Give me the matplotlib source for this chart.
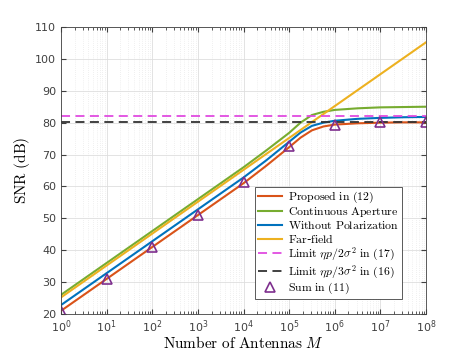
import numpy as np
import matplotlib
matplotlib.use('Agg')
import matplotlib.pyplot as plt

# curves (log10 M -> SNR dB)
logm = [0, 0.5, 1, 1.5, 2, 2.5, 3, 3.5, 4, 4.5, 5, 5.25, 5.5, 5.75, 6, 6.5, 7, 7.5, 8]
proposed = [21.0, 26.0, 31.0, 36.0, 41.0, 46.0, 51.0, 56.0, 61.0, 66.5, 72.3, 75.3, 77.6, 78.8, 79.4, 79.8, 80.0, 80.1, 80.1]
no_pol = [22.8, 27.8, 32.8, 37.8, 42.8, 47.8, 52.8, 57.8, 62.8, 68.2, 74.0, 76.9, 79.0, 80.0, 80.6, 81.2, 81.5, 81.7, 81.8]
continuous = [26.0, 31.0, 36.0, 41.0, 46.0, 51.0, 56.0, 61.0, 66.0, 71.3, 76.8, 80.0, 82.4, 83.4, 84.0, 84.5, 84.8, 84.9, 85.0]
far_field = [25.2, 30.2, 35.2, 40.2, 45.2, 50.2, 55.2, 60.2, 65.2, 70.2, 75.2, 77.7, 80.2, 82.7, 85.2, 90.2, 95.2, 100.2, 105.2]
limit_2 = 82.0
limit_3 = 80.2
sum_m = [1e0, 1e1, 1e2, 1e3, 1e4, 1e5, 1e6, 1e7, 1e8]
sum_snr = [21.0, 31.0, 41.0, 51.0, 61.5, 72.6, 79.3, 80.2, 80.3]

plt.rcParams['mathtext.fontset'] = 'cm'
plt.rcParams['font.family'] = 'DejaVu Sans'

m = np.power(10.0, logm)

fig = plt.figure(figsize=(4.71, 3.53), dpi=100)
ax = fig.add_axes([0.1295, 0.1105, 0.775, 0.813])

ax.plot(m, proposed, color='#D95319', lw=1.5, label=r'$\mathrm{Proposed\ in\ (12)}$')
ax.plot(m, continuous, color='#77AC30', lw=1.5, label=r'$\mathrm{Continuous\ Aperture}$')
ax.plot(m, no_pol, color='#0072BD', lw=1.5, label=r'$\mathrm{Without\ Polarization}$')
ax.plot(m, far_field, color='#EDB120', lw=1.5, label=r'$\mathrm{Far}$-$\mathrm{field}$')
ax.plot([1, 1e8], [limit_2, limit_2], '--', color='#E04BE0', lw=1.3, dashes=(5, 3),
        label=r'$\mathrm{Limit}\ \eta p/2\sigma^2\ \mathrm{in\ (17)}$')
ax.plot([1, 1e8], [limit_3, limit_3], '--', color='#333333', lw=1.3, dashes=(5, 3),
        label=r'$\mathrm{Limit}\ \eta p/3\sigma^2\ \mathrm{in\ (16)}$')
ax.plot(sum_m, sum_snr, '^', ms=7, mfc='none', mec='#7E2F8E', mew=1.2, ls='none',
        label=r'$\mathrm{Sum\ in\ (11)}$')

ax.set_xscale('log')
ax.set_xlim(1, 1e8)
ax.set_ylim(20, 110)
ax.set_xticks([10.0**k for k in range(9)])
ax.set_yticks(range(20, 111, 10))
ax.xaxis.set_minor_locator(matplotlib.ticker.LogLocator(base=10, subs=np.arange(2, 10), numticks=20))
ax.xaxis.set_minor_formatter(matplotlib.ticker.NullFormatter())

ax.grid(True, which='major', color='#dedede', lw=0.6)
ax.grid(True, which='minor', axis='x', color='#e2e2e2', lw=0.5, ls=(0, (1, 2)))
ax.set_axisbelow(True)
ax.tick_params(which='both', direction='in', top=True, right=True, colors='#404040', labelsize=8)
ax.tick_params(which='minor', length=2)
ax.tick_params(which='major', length=3.5)
for s in ax.spines.values():
    s.set_color('#404040')
    s.set_linewidth(0.6)

ax.set_xlabel(r'$\mathrm{Number\ of\ Antennas}\ M$', fontsize=11, labelpad=0)
ax.set_ylabel(r'$\mathrm{SNR\ (dB)}$', fontsize=11, labelpad=2)

leg = ax.legend(loc='lower right', fontsize=8.5, frameon=True, fancybox=False,
                edgecolor='#404040', framealpha=1, handlelength=2.0, labelspacing=0.02,
                borderpad=0.25, handletextpad=0.5, borderaxespad=0,
                bbox_to_anchor=(0.934, 0.052))
leg.get_frame().set_linewidth(0.6)

fig.savefig('out.png', dpi=100)
